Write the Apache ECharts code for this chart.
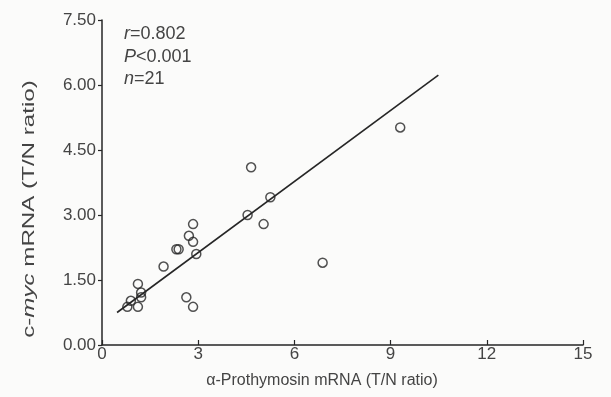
<!DOCTYPE html>
<html>
<head>
<meta charset="utf-8">
<script src="https://cdn.jsdelivr.net/npm/echarts@6/dist/echarts.min.js"></script>
<style>html,body{margin:0;padding:0;background:#fbfbfa;}#c{width:611px;height:397px;}</style>
</head>
<body>
<div id="c"></div>
<script>
// alpha-Prothymosin T/N ratio (x) vs c-myc T/N ratio (y)
const prothymosin = [0.79, 0.90, 1.12, 1.12, 1.22, 1.22, 1.92, 2.32, 2.39, 2.63, 2.71, 2.84, 2.84, 2.84, 2.94, 4.65, 4.54, 5.25, 5.04, 6.88, 9.30];
const cmyc        = [0.88, 1.02, 0.88, 1.41, 1.21, 1.10, 1.81, 2.21, 2.21, 1.10, 2.52, 2.79, 2.38, 0.88, 2.10, 4.10, 3.00, 3.41, 2.79, 1.90, 5.02];
// regression line end points
const fitX = [0.47, 10.49];
const fitY = [0.75, 6.23];
const xTicks = [0, 3, 6, 9, 12, 15];
const yTicks = [0, 1.5, 3, 4.5, 6, 7.5];

const points = prothymosin.map((x, i) => [x, cmyc[i]]);
const fitLine = fitX.map((x, i) => [x, fitY[i]]);

const font = 'Liberation Sans, Arial, Helvetica, sans-serif';
const txt = '#444444';
const ink = '#262626';

const chart = echarts.init(document.getElementById('c'), null, {renderer: 'canvas'});
chart.setOption({
  backgroundColor: '#fbfbfa',
  animation: false,
  grid: {left: 102, right: 28, top: 20, bottom: 52},
  xAxis: {
    type: 'value', min: xTicks[0], max: xTicks[xTicks.length - 1], interval: 3,
    splitLine: {show: false},
    axisLine: {lineStyle: {color: ink, width: 1.5}},
    axisTick: {inside: true, length: 5, lineStyle: {color: ink, width: 1.2}},
    axisLabel: {color: txt, fontSize: 17, fontFamily: font, margin: 1}
  },
  yAxis: {
    type: 'value', min: yTicks[0], max: yTicks[yTicks.length - 1], interval: 1.5,
    splitLine: {show: false},
    axisLine: {show: true, lineStyle: {color: ink, width: 1.5}},
    axisTick: {show: true, inside: false, length: 4, lineStyle: {color: ink, width: 1.2}},
    axisLabel: {color: txt, fontSize: 17, fontFamily: font, margin: 6,
      formatter: v => v.toFixed(2)}
  },
  series: [
    {
      type: 'line', data: fitLine, symbol: 'none', silent: true,
      lineStyle: {color: ink, width: 1.6}
    },
    {
      type: 'scatter', data: points, symbol: 'circle', symbolSize: 9,
      itemStyle: {color: 'rgba(0,0,0,0)', borderColor: ink, borderWidth: 1.5}
    }
  ],
  graphic: [
    {
      type: 'text', left: 124, top: 25,
      style: {text: '{i|r}=0.802', fontSize: 18, fontFamily: font, fill: txt,
        rich: {i: {fontStyle: 'italic', fontSize: 18, fontFamily: font, fill: txt}}}
    },
    {
      type: 'text', left: 124, top: 48,
      style: {text: '{i|P}<0.001', fontSize: 18, fontFamily: font, fill: txt,
        rich: {i: {fontStyle: 'italic', fontSize: 18, fontFamily: font, fill: txt}}}
    },
    {
      type: 'text', left: 124, top: 70,
      style: {text: '{i|n}=21', fontSize: 18, fontFamily: font, fill: txt,
        rich: {i: {fontStyle: 'italic', fontSize: 18, fontFamily: font, fill: txt}}}
    },
    {
      type: 'text', x: 322, y: 381,
      style: {text: 'α-Prothymosin mRNA (T/N ratio)', fontSize: 16, fontFamily: font, fill: txt,
        align: 'center', verticalAlign: 'middle'}
    },
    {
      type: 'text', x: 29, y: 209, rotation: Math.PI / 2, scaleX: 1.42,
      style: {text: 'c-{i|myc} mRNA (T/N ratio)', fontSize: 17, fontFamily: font, fill: txt,
        align: 'center', verticalAlign: 'middle',
        rich: {i: {fontStyle: 'italic', fontSize: 17, fontFamily: font, fill: txt}}}
    }
  ]
});
</script>
</body>
</html>
